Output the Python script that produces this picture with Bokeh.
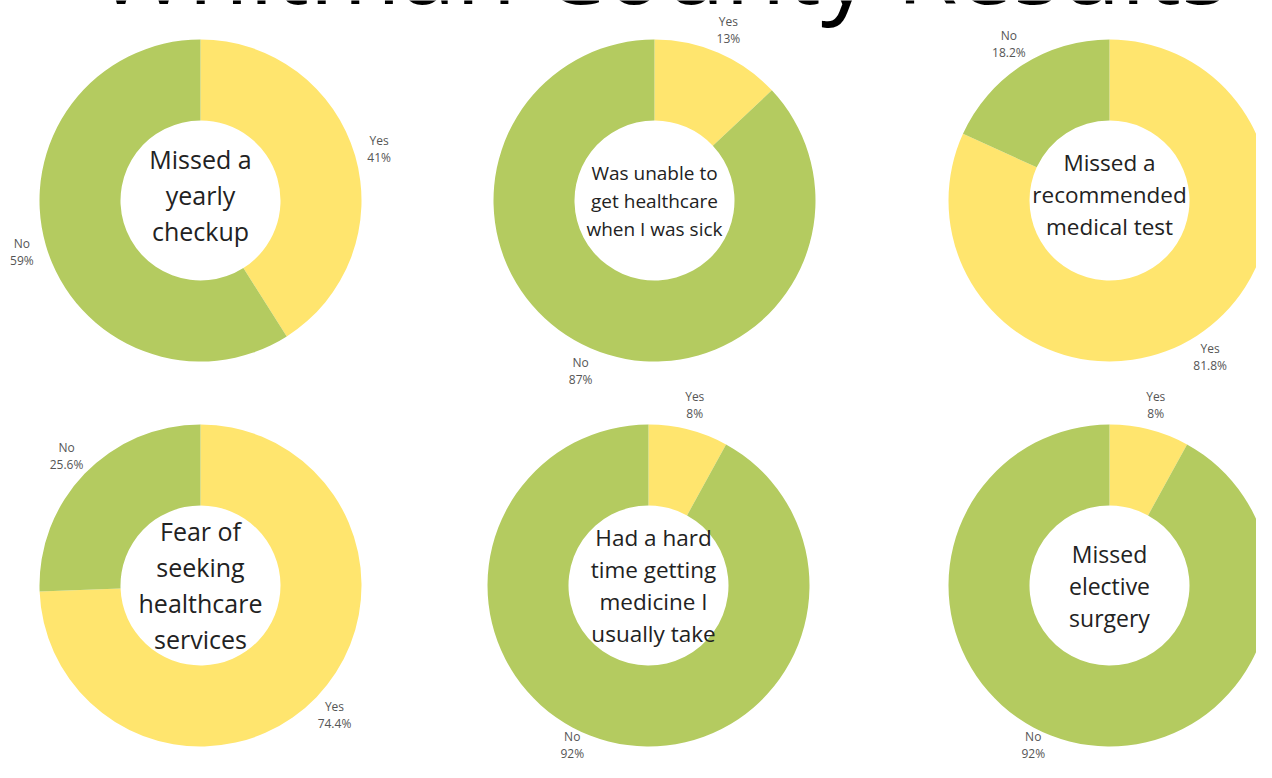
import math
from bokeh.plotting import figure
from bokeh.models import ColumnDataSource, Range1d
from bokeh.core.properties import value
from bokeh.embed import file_html
from bokeh.resources import INLINE

# ---------------- data ----------------
title = "Whitman County Results"
questions = [
    ["Missed a", "yearly", "checkup"],
    ["Was unable to", "get healthcare", "when I was sick"],
    ["Missed a", "recommended", "medical test"],
    ["Fear of", "seeking", "healthcare", "services"],
    ["Had a hard", "time getting", "medicine I", "usually take"],
    ["Missed", "elective", "surgery"],
]
categories = ["Yes", "No"]
yes_pct = [41, 13, 81.8, 74.4, 8, 8]
no_pct = [59, 87, 18.2, 25.6, 92, 92]

# ---------------- layout (picture pixel coords) ----------------
W, H = 1256, 762
centers = [(200, 200), (654, 200), (1109, 200), (200, 585), (648, 585), (1109, 585)]
text_cx = [200, 654, 1109, 200, 653, 1109]
text_cy = [194, 200, 194, 584, 585, 585]
text_size = [25, 19, 22.5, 25, 22.5, 23]
line_gap = [36, 28, 32, 36, 32, 32]
R_OUT, R_IN, R_LAB = 161, 80, 186
YELLOW = "#FFE56E"
GREEN = "#B4CB60"
LAB_MAX_Y = 744

def X(x):
    return x

def Y(y):
    return H - y

p = figure(width=W, height=H, output_backend="svg", toolbar_location=None,
           x_range=Range1d(0, W), y_range=Range1d(0, H), min_border=0)
p.axis.visible = False
p.grid.visible = False
p.outline_line_color = None
p.background_fill_color = "white"

# title (partially cut at top like the reference)
p.text(x=[X(662)], y=[Y(10 - 45)], text=[title], text_font=value("Open Sans"),
       text_font_size="99px", text_color="#000000", text_align="center",
       text_baseline="alphabetic")

for i, (cx, cy) in enumerate(centers):
    fy = yes_pct[i] / (yes_pct[i] + no_pct[i])
    a0 = math.pi / 2
    a1 = a0 - 2 * math.pi * fy
    a2 = a0 - 2 * math.pi
    src = ColumnDataSource(dict(
        x=[X(cx)] * 2, y=[Y(cy)] * 2,
        start=[a0, a1], end=[a1, a2],
        color=[YELLOW, GREEN],
    ))
    p.annular_wedge(x="x", y="y", inner_radius=R_IN, outer_radius=R_OUT,
                    start_angle="start", end_angle="end", direction="clock",
                    fill_color="color", line_color=None, source=src)

    # outside labels at slice mid-angle
    vals = [yes_pct[i], no_pct[i]]
    mids = [(a0 + a1) / 2, (a1 + a2) / 2]
    for cat, v, m in zip(categories, vals, mids):
        lx = X(cx) + R_LAB * math.cos(m)
        ly_win = cy - R_LAB * math.sin(m)
        if ly_win > LAB_MAX_Y:
            ly_win = LAB_MAX_Y
            lx += -30 if math.cos(m) < 0 else 30
        ly = Y(ly_win)
        p.text(x=[lx, lx], y=[ly + 8.5, ly - 8.5], text=[cat, f"{v:g}%"],
               text_font=value("Open Sans"), text_font_size="12px",
               text_color="#555555", text_align="center", text_baseline="middle")

    # center question text
    lines = questions[i]
    n = len(lines)
    ys = [Y(text_cy[i]) + (n - 1) / 2 * line_gap[i] - k * line_gap[i] for k in range(n)]
    p.text(x=[X(text_cx[i])] * n, y=ys, text=lines,
           text_font=value("Open Sans"), text_font_size=f"{text_size[i]}px",
           text_color="#222222", text_align="center", text_baseline="middle")

open("out.html", "w").write(file_html(p, INLINE))
